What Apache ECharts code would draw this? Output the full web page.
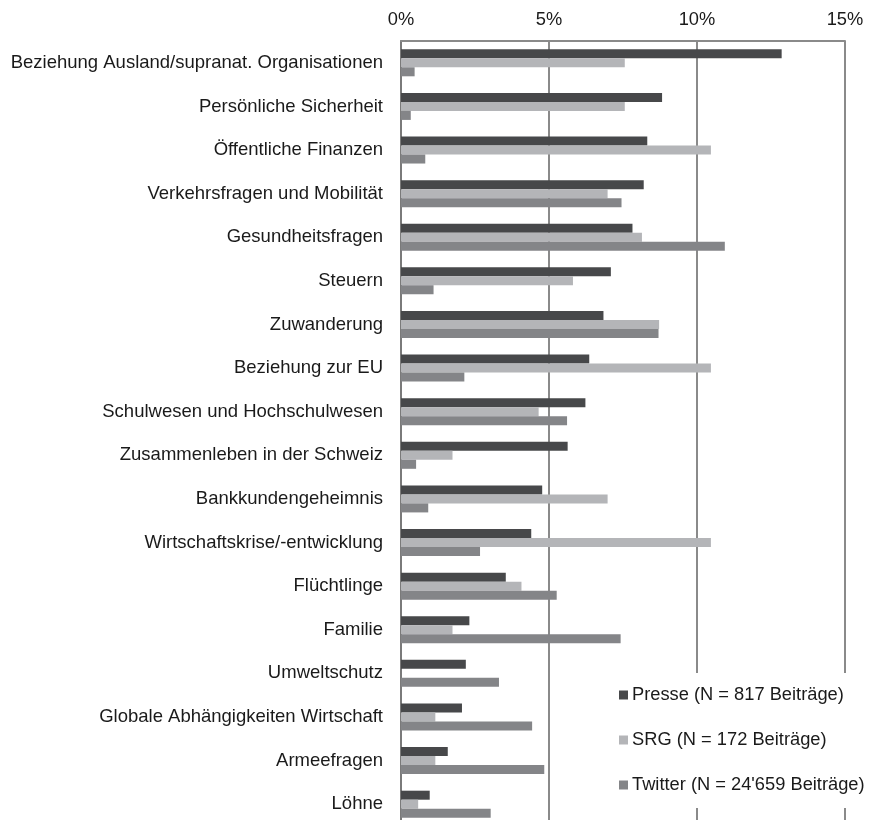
<!DOCTYPE html>
<html>
<head>
<meta charset="utf-8">
<title>Themen nach Quelle</title>
<script src="https://cdn.jsdelivr.net/npm/echarts@6/dist/echarts.min.js"></script>
<style>
  html, body { margin: 0; padding: 0; background: #fff; overflow: hidden; }
  /* canvas a little taller than the window: the plot area runs past the bottom edge */
  #chart { width: 869px; height: 826px; }
</style>
</head>
<body>
<div id="chart"></div>
<script>
// Themen (top to bottom)
const categories = [
  'Beziehung Ausland/supranat. Organisationen',
  'Persönliche Sicherheit',
  'Öffentliche Finanzen',
  'Verkehrsfragen und Mobilität',
  'Gesundheitsfragen',
  'Steuern',
  'Zuwanderung',
  'Beziehung zur EU',
  'Schulwesen und Hochschulwesen',
  'Zusammenleben in der Schweiz',
  'Bankkundengeheimnis',
  'Wirtschaftskrise/-entwicklung',
  'Flüchtlinge',
  'Familie',
  'Umweltschutz',
  'Globale Abhängigkeiten Wirtschaft',
  'Armeefragen',
  'Löhne'
];

// Anteile in Prozent
const presse  = [12.86, 8.82, 8.32, 8.20, 7.82, 7.09, 6.84, 6.36, 6.23, 5.63, 4.77, 4.40, 3.54, 2.31, 2.19, 2.06, 1.58, 0.97];
const srg     = [7.56, 7.56, 10.47, 6.98, 8.14, 5.81, 8.72, 10.47, 4.65, 1.74, 6.98, 10.47, 4.07, 1.74, 0, 1.16, 1.16, 0.58];
const twitter = [0.46, 0.33, 0.82, 7.45, 10.94, 1.10, 8.70, 2.14, 5.61, 0.51, 0.92, 2.67, 5.26, 7.42, 3.31, 4.43, 4.84, 3.03];

const seriesNames = [
  'Presse (N = 817 Beiträge)',
  'SRG (N = 172 Beiträge)',
  "Twitter (N = 24'659 Beiträge)"
];

// x axis ticks
const xMin = 0, xMax = 15, xStep = 5;
const tickSuffix = '%';

const colors = ['#47484a', '#b4b5b8', '#848588'];
const fontFamily = '"Liberation Sans", Arial, sans-serif';
const gridColor = '#8a8a8a';

const chart = echarts.init(document.getElementById('chart'), null, { renderer: 'canvas' });

const barSeries = [presse, srg, twitter].map((values, i) => ({
  name: seriesNames[i],
  type: 'bar',
  data: values,
  barWidth: 9,
  barGap: '0%',
  itemStyle: { color: colors[i] },
  z: 3
}));

chart.setOption({
  animation: false,
  backgroundColor: '#ffffff',
  textStyle: { fontFamily: fontFamily },
  grid: {
    left: 401,
    top: 41,
    right: 24,
    bottom: 0,
    containLabel: false
  },
  xAxis: {
    type: 'value',
    position: 'top',
    min: xMin,
    max: xMax,
    interval: xStep,
    axisLine: { show: true, lineStyle: { color: gridColor, width: 2 } },
    axisTick: { show: false },
    axisLabel: {
      margin: 12,
      color: '#1a1a1a',
      fontSize: 18.3,
      fontFamily: fontFamily,
      formatter: v => v + tickSuffix
    },
    splitLine: { show: true, lineStyle: { color: gridColor, width: 2 } }
  },
  yAxis: {
    type: 'category',
    data: categories,
    inverse: true,
    axisLine: { show: true, lineStyle: { color: '#7a7a7a', width: 2 } },
    axisTick: { show: false },
    axisLabel: {
      margin: 18,
      color: '#1a1a1a',
      fontSize: 18.5,
      fontFamily: fontFamily
    },
    splitLine: { show: false }
  },
  legend: {
    orient: 'vertical',
    left: 610,
    top: 673,
    padding: [13, 6, 14, 9],
    backgroundColor: '#ffffff',
    itemWidth: 9,
    itemHeight: 9,
    itemGap: 27,
    icon: 'rect',
    z: 10,
    textStyle: {
      color: '#1a1a1a',
      fontSize: 18.3,
      fontFamily: fontFamily,
      padding: [0, 0, 0, -1]
    },
    data: seriesNames
  },
  series: barSeries
});
</script>
</body>
</html>
